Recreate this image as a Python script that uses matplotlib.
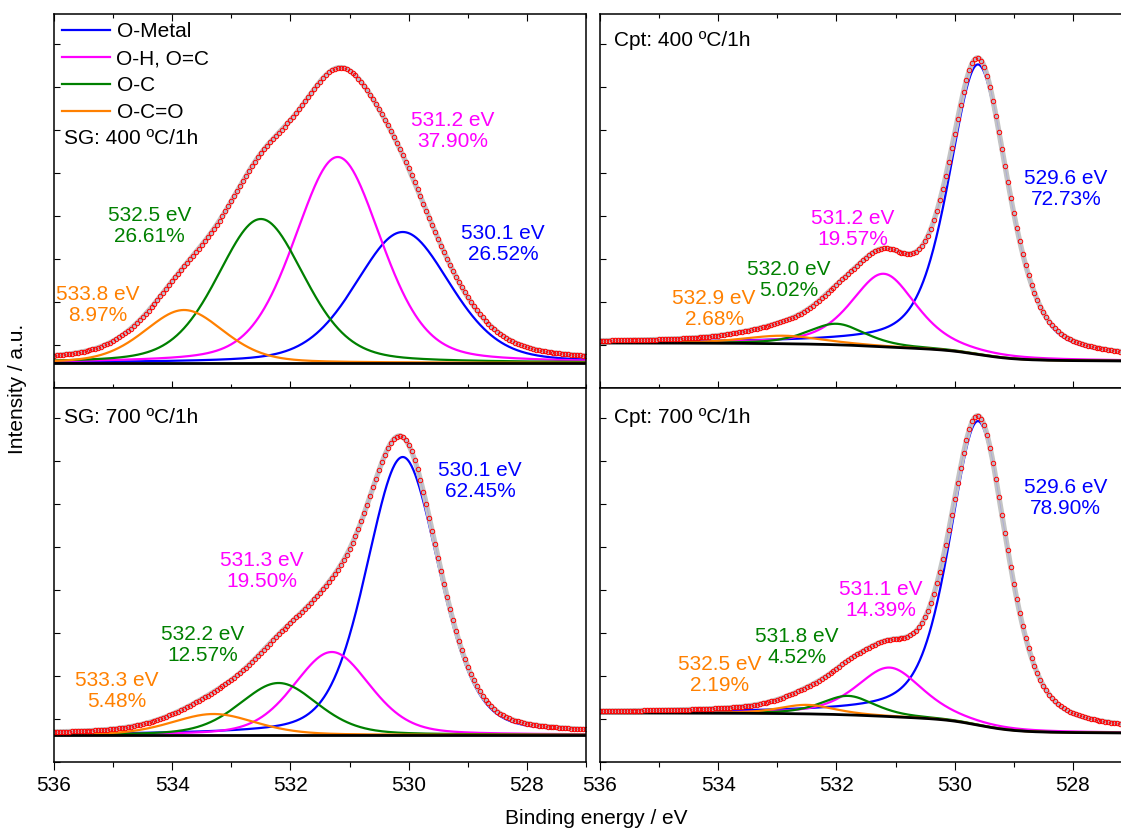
import numpy as np
import matplotlib.pyplot as plt
from matplotlib.ticker import MultipleLocator

plt.rcParams['font.family'] = ['Liberation Sans', 'DejaVu Sans']
plt.rcParams['font.size'] = 15

# -------------------- fitted components --------------------
names = ['O-Metal', 'O-H, O=C', 'O-C', 'O-C=O']
colors = ['#0000ff', '#ff00ff', '#008000', '#ff8000']

# SG: 400 C/1h
sg400_center = [530.1, 531.2, 532.5, 533.8]
sg400_height = [131, 206, 144, 53]
sg400_fwhm = [1.90, 1.73, 1.74, 1.59]
sg400_pct = ['26.52%', '37.90%', '26.61%', '8.97%']
sg400_bg = [25, 25]          # background at low / high binding energy

# SG: 700 C/1h
sg700_center = [530.1, 531.3, 532.2, 533.3]
sg700_height = [278, 83, 52, 21]
sg700_fwhm = [1.45, 1.52, 1.56, 1.68]
sg700_pct = ['62.45%', '19.50%', '12.57%', '5.48%']
sg700_bg = [27, 27]

# Cpt: 400 C/1h
cpt400_center = [529.6, 531.2, 532.0, 532.9]
cpt400_height = [290, 73, 21, 8]
cpt400_fwhm = [1.18, 1.30, 1.15, 1.60]
cpt400_pct = ['72.73%', '19.57%', '5.02%', '2.68%']
cpt400_bg = [27, 45]

# Cpt: 700 C/1h
cpt700_center = [529.6, 531.1, 531.8, 532.5]
cpt700_height = [304, 49, 19, 9]
cpt700_fwhm = [1.15, 1.32, 1.07, 1.12]
cpt700_pct = ['78.90%', '14.39%', '4.52%', '2.19%']
cpt700_bg = [29, 49]

# label positions (binding energy, intensity)
sg400_lbl = [(528.40, 144), (529.25, 257), (534.38, 162), (535.26, 83)]
sg700_lbl = [(528.79, 281), (532.48, 191), (533.48, 117), (534.93, 71)]
cpt400_lbl = [(528.12, 199), (531.72, 159), (532.80, 108), (534.07, 79)]
cpt700_lbl = [(528.12, 264), (531.25, 162), (532.67, 115), (533.97, 87)]


def gl(x, c, h, w, m):
    d = 4 * ((x - c) / w) ** 2
    return h * ((1 - m) * np.exp(-np.log(2) * d) + m / (1 + d))


def shirley(x, total, lo, hi):
    cum = np.concatenate([[0], np.cumsum((total[1:] + total[:-1]) / 2 * np.diff(x))])
    return lo + (hi - lo) * cum / cum[-1]


def draw_panel(ax, center, height, fwhm, pct, bg, lbl, title, title_xy, mix):
    x = np.arange(527.0, 536.0001, 0.01)
    comps = [gl(x, c, h, w, mix) for c, h, w in zip(center, height, fwhm)]
    total = np.sum(comps, axis=0)
    back = shirley(x, total, bg[0], bg[1])

    for comp, col, nm in zip(comps, colors, names):
        ax.plot(x, back + comp, color=col, lw=1.6, label=nm)
    ax.plot(x, back, color='black', lw=2)
    ax.plot(x, back + total, color='#c4c4c4', lw=3.8)
    ax.plot(x, back + total, color='#a9a9d6', lw=0.6)

    xd = np.arange(527.0, 536.0001, 0.05)
    td = np.interp(xd, x, back + total)
    ax.plot(xd, td, 'o', mfc='none', mec='red', ms=3.2, mew=0.7)

    for (lx, ly), c, p, col in zip(lbl, center, pct, colors):
        ax.text(lx, ly, f'{c:.1f} eV\n{p}', color=col, ha='center', va='center',
                linespacing=1.15)

    ax.text(title_xy[0], title_xy[1], title, transform=ax.transAxes,
            ha='left', va='center')

    ax.set_xlim(536, 527)
    ax.set_ylim(0, 374)
    ax.xaxis.set_major_locator(MultipleLocator(2))
    ax.xaxis.set_minor_locator(MultipleLocator(1))
    ax.yaxis.set_major_locator(MultipleLocator(43))
    ax.set_yticklabels([])
    ax.tick_params(axis='y', which='both', direction='in', length=4, width=0.8)
    for s in ax.spines.values():
        s.set_linewidth(1.1)


fig = plt.figure(figsize=(11.21, 8.34), dpi=100)
W, H = 1121, 834


def box(left, top, right, bottom):
    return [left / W, 1 - bottom / H, (right - left) / W, (bottom - top) / H]


ax_tl = fig.add_axes(box(54, 14, 586, 388))
ax_bl = fig.add_axes(box(54, 388, 586, 762))
ax_tr = fig.add_axes(box(600, 14, 1132, 388))
ax_br = fig.add_axes(box(600, 388, 1132, 762))

draw_panel(ax_tl, sg400_center, sg400_height, sg400_fwhm, sg400_pct, sg400_bg,
           sg400_lbl, 'SG: 400 ºC/1h', (0.018, 0.667), 0.3)
draw_panel(ax_bl, sg700_center, sg700_height, sg700_fwhm, sg700_pct, sg700_bg,
           sg700_lbl, 'SG: 700 ºC/1h', (0.018, 0.92), 0.3)
draw_panel(ax_tr, cpt400_center, cpt400_height, cpt400_fwhm, cpt400_pct, cpt400_bg,
           cpt400_lbl, 'Cpt: 400 ºC/1h', (0.026, 0.928), 0.5)
draw_panel(ax_br, cpt700_center, cpt700_height, cpt700_fwhm, cpt700_pct, cpt700_bg,
           cpt700_lbl, 'Cpt: 700 ºC/1h', (0.026, 0.92), 0.5)

for ax in (ax_tl, ax_tr):
    ax.set_xticklabels([])
    ax.tick_params(axis='x', which='both', direction='in', top=True, bottom=True, width=0.8)
    ax.tick_params(axis='x', which='major', length=5)
    ax.tick_params(axis='x', which='minor', length=3)
for ax in (ax_bl, ax_br):
    ax.tick_params(axis='x', which='both', direction='out', top=False, width=0.8, pad=4)
    ax.tick_params(axis='x', which='major', length=6)
    ax.tick_params(axis='x', which='minor', length=3.5)

handles, labels = ax_tl.get_legend_handles_labels()
ax_tl.legend(handles[:4], labels[:4], loc='upper left', frameon=False,
             handlelength=2.3, handletextpad=0.3, labelspacing=0.38,
             borderaxespad=0.1, borderpad=0.3)

fig.text(0.016, 0.534, 'Intensity / a.u.', rotation=90, ha='center', va='center')
fig.text(0.532, 0.018, 'Binding energy / eV', ha='center', va='center')

fig.savefig('out.png', dpi=100)
